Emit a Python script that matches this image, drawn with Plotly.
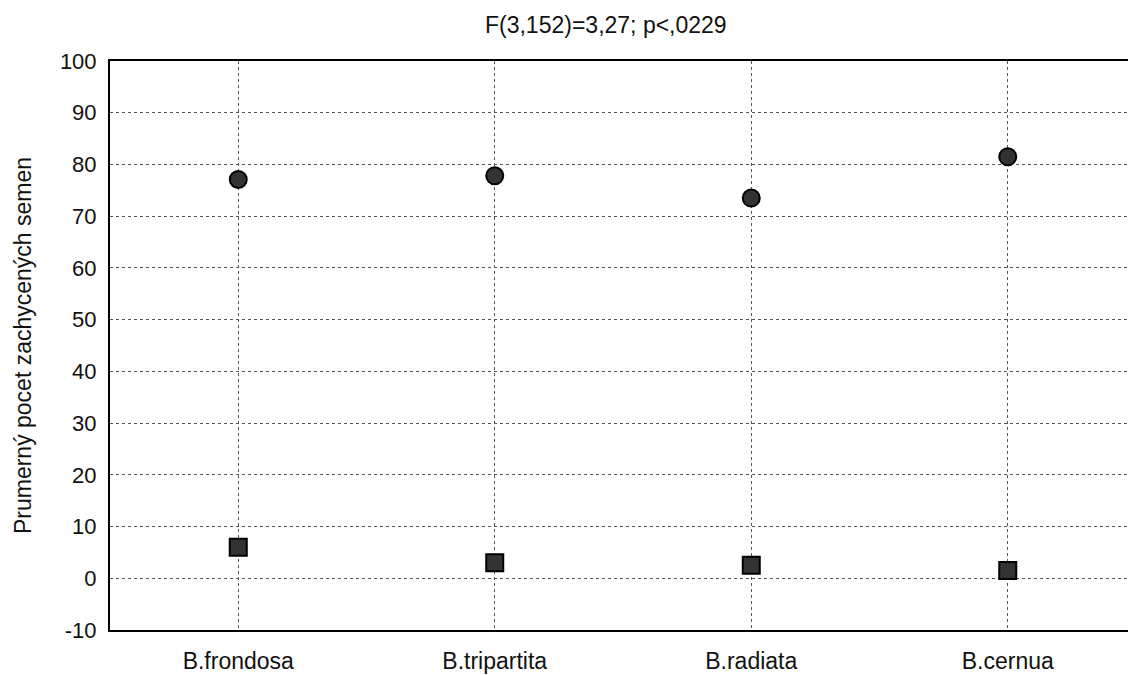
import plotly.graph_objects as go

categories = ["B.frondosa", "B.tripartita", "B.radiata", "B.cernua"]
circle_values = [77.1, 77.8, 73.5, 81.5]
square_values = [6.0, 3.0, 2.5, 1.5]
y_ticks = [-10, 0, 10, 20, 30, 40, 50, 60, 70, 80, 90, 100]
y_tick_labels = ["-10", "0", "10", "20", "30", "40", "50", "60", "70", "80", "90", "100"]
title_text = "F(3,152)=3,27; p<,0229"
y_title = "Prumerný pocet zachycených semen"

font_family = "Liberation Sans, Arial, sans-serif"

fig = go.Figure()
fig.add_trace(go.Scatter(
    x=categories, y=circle_values, mode="markers",
    marker=dict(symbol="circle", size=17, color="#333333",
                line=dict(color="#000000", width=2)),
    showlegend=False))
fig.add_trace(go.Scatter(
    x=categories, y=square_values, mode="markers",
    marker=dict(symbol="square", size=17, color="#333333",
                line=dict(color="#000000", width=2)),
    showlegend=False))

fig.update_layout(
    width=1128, height=667,
    margin=dict(l=102, r=0, t=53, b=45),
    paper_bgcolor="white", plot_bgcolor="white",
    font=dict(family=font_family, size=22, color="#111111"),
    title=dict(text=title_text, x=0.530, xanchor="center", y=0.9745,
               yanchor="middle", font=dict(size=23)),
    xaxis=dict(
        type="category", range=[-0.5, 3.5],
        showline=True, linecolor="black", linewidth=2, mirror=True,
        showgrid=True, gridcolor="#555555", griddash="dot", gridwidth=1,
        ticks="", ticklabelstandoff=9, zeroline=False,
        tickfont=dict(size=23),
    ),
    yaxis=dict(
        range=[-10, 100], tickvals=y_ticks, ticktext=y_tick_labels,
        showline=True, linecolor="black", linewidth=2, mirror=False,
        showgrid=True, gridcolor="#555555", griddash="dot", gridwidth=1,
        zeroline=False, ticks="", ticklabelstandoff=7,
        tickfont=dict(size=22),
        title=dict(text=y_title, font=dict(size=23), standoff=22),
    ),
)

fig.write_html("out.html")
